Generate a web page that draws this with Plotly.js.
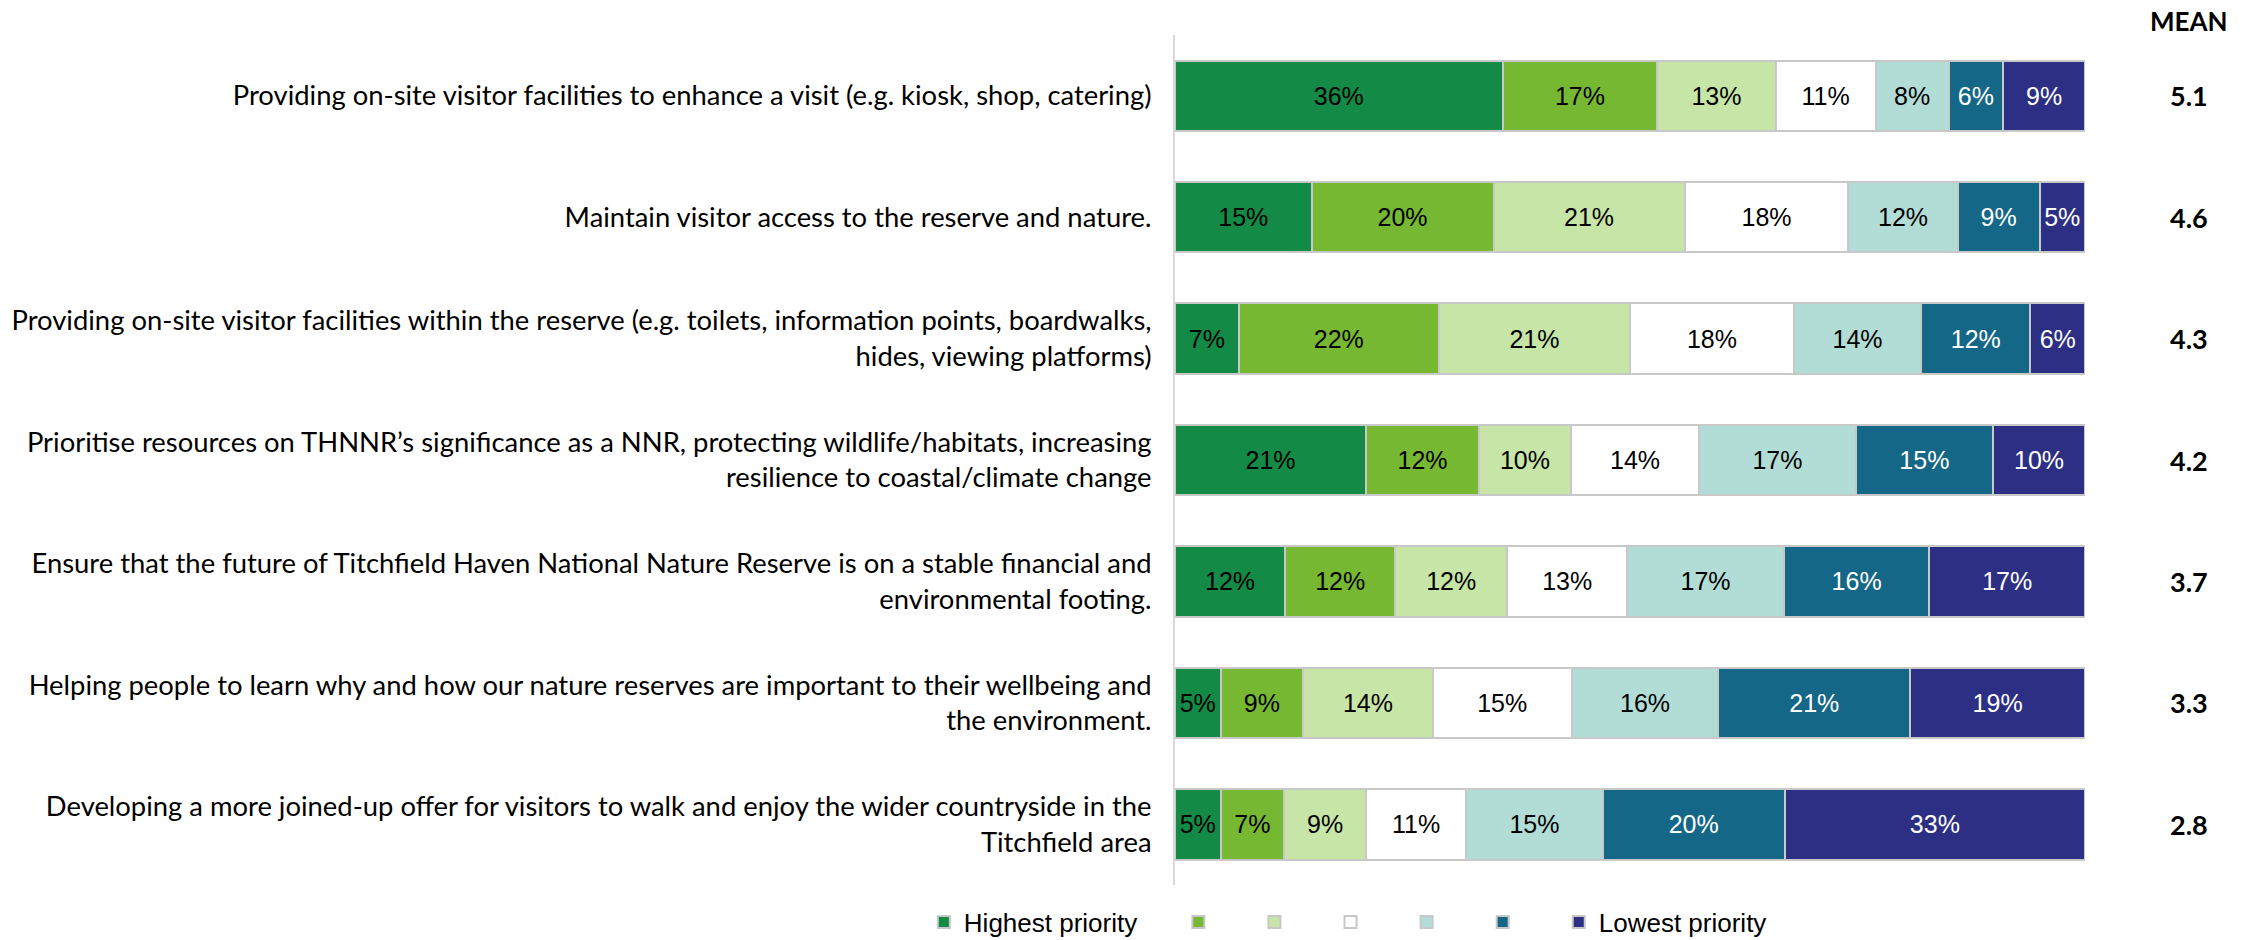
<!DOCTYPE html>
<html>
<head>
<meta charset="utf-8">
<script src="https://cdn.plot.ly/plotly-3.0.1.min.js"></script>
<style>html,body{margin:0;padding:0;background:#fff;}#chart{width:2246px;height:940px;}</style>
</head>
<body>
<div id="chart"></div>
<script>
const categories = [
  "Providing on-site visitor facilities to enhance a visit (e.g. kiosk, shop, catering)",
  "Maintain visitor access to the reserve and nature.",
  "Providing on-site visitor facilities within the reserve (e.g. toilets, information points, boardwalks,<br>hides, viewing platforms)",
  "Prioritise resources on THNNR’s significance as a NNR, protecting wildlife/habitats, increasing<br>resilience to coastal/climate change",
  "Ensure that the future of Titchfield Haven National Nature Reserve is on a stable financial and<br>environmental footing.",
  "Helping people to learn why and how our nature reserves are important to their wellbeing and<br>the environment.",
  "Developing a more joined-up offer for visitors to walk and enjoy the wider countryside in the<br>Titchfield area"
];
const seriesNames = ["Highest priority", "", "", "", "", "", "Lowest priority"];
const p1 = [36, 15, 7, 21, 12.1, 5, 5];
const p2 = [17, 20, 22, 12.4, 12.1, 9.1, 7];
const p3 = [13, 21, 21, 10.1, 12.3, 14.2, 9];
const p4 = [11, 18, 18, 14.1, 13.2, 15.3, 11];
const p5 = [8, 12, 14, 17.2, 17.2, 16.1, 15];
const p6 = [6, 9, 12, 15.1, 16, 21.1, 20];
const p7 = [9, 5, 6, 10.1, 17.1, 19.2, 33];
const means = [5.1, 4.6, 4.3, 4.2, 3.7, 3.3, 2.8];

const series = [p1, p2, p3, p4, p5, p6, p7];
const colors = ["#138a45", "#77b833", "#c6e5a6", "#ffffff", "#b2ddd6", "#146786", "#2c2f83"];
const textColors = ["#000", "#000", "#000", "#000", "#000", "#fff", "#fff"];
const padFirst = "\u00a0\u00a0\u00a0\u00a0\u00a0";
const padEmpty = "\u00a0\u00a0\u00a0\u00a0\u200a";

const traces = series.map((vals, i) => ({
  type: "bar",
  orientation: "h",
  name: seriesNames[i] + (i === 0 ? padFirst : (i < series.length - 1 ? padEmpty : "")),
  y: categories,
  x: vals,
  text: vals.map(v => Math.round(v) + "%"),
  textposition: "inside",
  insidetextanchor: "middle",
  textangle: 0,
  textfont: {family: "Liberation Sans, Arial, sans-serif", size: 25, color: textColors[i]},
  marker: {color: colors[i], line: {color: "#c8c8c8", width: 2}},
  hoverinfo: "skip"
}));

const annotations = categories.map((c, i) => ({
  xref: "paper", yref: "y", x: 1.1143, y: c,
  text: "<b>" + means[i].toFixed(1) + "</b>",
  showarrow: false, xanchor: "center", yanchor: "middle",
  font: {family: "Lato, sans-serif", size: 27, color: "#000"}
}));
annotations.push({
  xref: "paper", yref: "paper", x: 1.1143, y: 1.0165,
  text: "<b>MEAN</b>", showarrow: false, xanchor: "center", yanchor: "middle",
  font: {family: "Lato, sans-serif", size: 26, color: "#000"}
});

const layout = {
  width: 2246, height: 940,
  margin: {l: 1175, r: 161, t: 35, b: 55, pad: 0, autoexpand: false},
  barmode: "stack",
  bargap: 0.42,
  paper_bgcolor: "#fff", plot_bgcolor: "#fff",
  showlegend: true,
  legend: {
    orientation: "h", traceorder: "normal",
    x: -0.276, xanchor: "left", y: -0.0435, yanchor: "middle",
    font: {family: "Liberation Sans, Arial, sans-serif", size: 26, color: "#000"},
    itemclick: false, itemdoubleclick: false
  },
  xaxis: {range: [0, 100], showgrid: false, zeroline: false, showticklabels: false, showline: false, fixedrange: true},
  yaxis: {
    autorange: "reversed", type: "category",
    showgrid: false, zeroline: false,
    showline: true, linecolor: "#d9d9d9", linewidth: 2,
    ticks: "", ticklabelstandoff: 16,
    tickfont: {family: "Lato, sans-serif", size: 27.4, color: "#000"},
    fixedrange: true
  },
  annotations: annotations
};

Plotly.newPlot("chart", traces, layout, {displayModeBar: false, staticPlot: true});
</script>
</body>
</html>
